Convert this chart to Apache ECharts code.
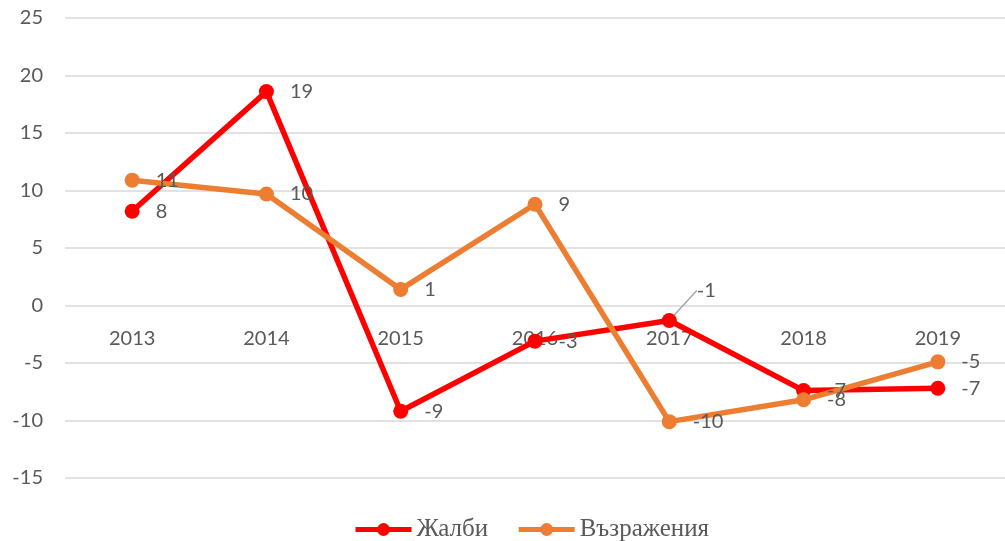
<!DOCTYPE html>
<html>
<head>
<meta charset="utf-8">
<script src="https://cdn.jsdelivr.net/npm/echarts@6/dist/echarts.min.js"></script>
<style>
  html, body { margin: 0; padding: 0; background: #fff; }
  #chart { width: 1005px; height: 541px; }
</style>
</head>
<body>
<div id="chart"></div>
<script>
// данни, отчетени от графиката
const years = ['2013', '2014', '2015', '2016', '2017', '2018', '2019'];
const zhalbi = [8.2, 18.6, -9.2, -3.1, -1.3, -7.4, -7.2];
const vazrazheniya = [10.9, 9.7, 1.4, 8.8, -10.1, -8.2, -4.9];

const chart = echarts.init(document.getElementById('chart'));
const labelFont = { fontFamily: 'Lato, "Open Sans", sans-serif', fontSize: 20, color: '#595959' };

// само етикетът за 2017 е изместен нагоре с водеща линия
const zhalbiData = zhalbi.map((v, i) => (i === 4
  ? { value: v, labelLine: { show: true, lineStyle: { color: '#a6a6a6', width: 1.5 } } }
  : v));

const option = {
  animation: false,
  grid: { left: 65, right: 0, top: 18, bottom: 63 },
  legend: {
    top: 512,
    left: 348,
    itemWidth: 56,
    itemHeight: 16,
    itemGap: 28,
    lineStyle: { width: 5 },
    textStyle: { fontFamily: '"Liberation Serif", "DejaVu Serif", serif', fontSize: 25, color: '#595959' },
    data: ['Жалби', 'Възражения']
  },
  xAxis: {
    type: 'category',
    data: years,
    boundaryGap: true,
    offset: -172,
    axisLine: { show: false },
    axisTick: { show: false },
    axisLabel: Object.assign({ margin: 23 }, labelFont)
  },
  yAxis: {
    type: 'value',
    min: -15,
    max: 25,
    interval: 5,
    axisLine: { show: false },
    axisTick: { show: false },
    splitLine: { lineStyle: { color: '#d9d9d9', width: 1.5 } },
    axisLabel: Object.assign({ margin: 22 }, labelFont)
  },
  series: [
    {
      name: 'Жалби',
      type: 'line',
      data: zhalbiData,
      symbol: 'circle',
      symbolSize: 15,
      lineStyle: { color: '#ff0000', width: 5.5 },
      itemStyle: { color: '#ff0000' },
      label: {
        show: true,
        position: 'right',
        distance: 16,
        formatter: (p) => Math.round(p.value),
        ...labelFont
      },
      labelLayout: (p) => (p.dataIndex === 4 ? { dx: 4, dy: -30 } : {})
    },
    {
      name: 'Възражения',
      type: 'line',
      data: vazrazheniya,
      symbol: 'circle',
      symbolSize: 15,
      lineStyle: { color: '#ed7d31', width: 5.5 },
      itemStyle: { color: '#ed7d31' },
      label: {
        show: true,
        position: 'right',
        distance: 16,
        formatter: (p) => Math.round(p.value),
        ...labelFont
      }
    }
  ]
};

chart.setOption(option);
</script>
</body>
</html>
